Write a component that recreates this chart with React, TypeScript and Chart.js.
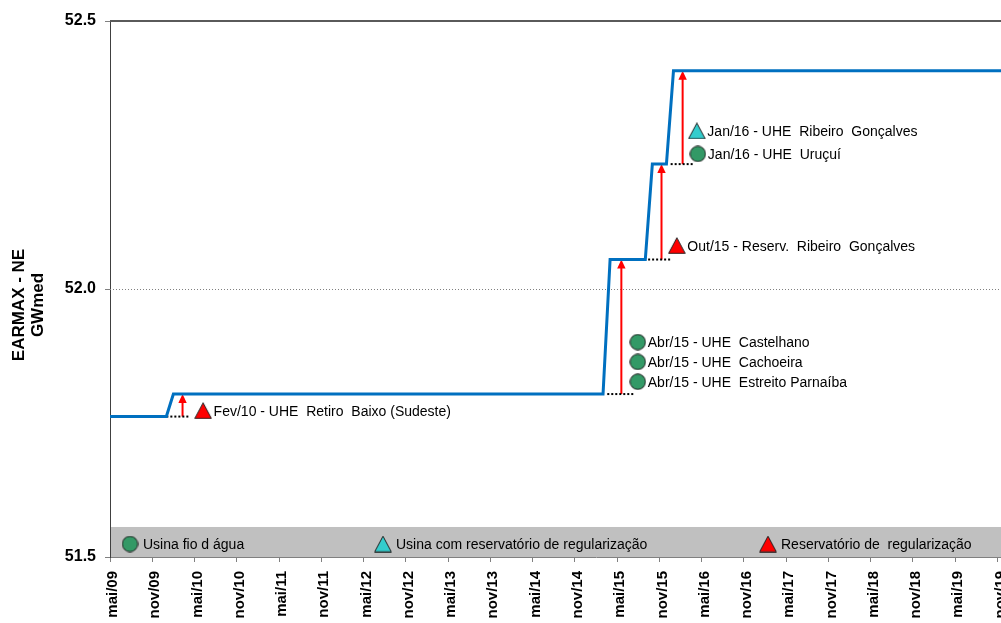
import React, { useEffect, useRef } from 'react';
import { Chart, registerables } from 'chart.js';

Chart.register(...registerables);

// ---- data ----
const MONTHS = ['jan', 'fev', 'mar', 'abr', 'mai', 'jun', 'jul', 'ago', 'set', 'out', 'nov', 'dez'];
function monthIndex(label: string): number {
  const [m, yy] = label.split('/');
  return (Number(yy) - 9) * 12 + MONTHS.indexOf(m) - 4; // months since mai/09
}

const xTickLabels = [
  'mai/09', 'nov/09', 'mai/10', 'nov/10', 'mai/11', 'nov/11', 'mai/12', 'nov/12',
  'mai/13', 'nov/13', 'mai/14', 'nov/14', 'mai/15', 'nov/15', 'mai/16', 'nov/16',
  'mai/17', 'nov/17', 'mai/18', 'nov/18', 'mai/19', 'nov/19', 'mai/20', 'nov/20',
];
const yMin = 51.5;
const yMax = 52.5;
const yStep = 0.5;
const yGridDotted = 52.0;
const legendBandTop = 51.556;

const earmaxDates = ['mai/09', 'jan/10', 'fev/10', 'mar/15', 'abr/15', 'set/15', 'out/15', 'dez/15', 'jan/16', 'nov/20'];
const earmaxValues = [51.762, 51.762, 51.804, 51.804, 52.055, 52.055, 52.233, 52.233, 52.407, 52.407];

// dotted guides under each step and red arrows (month index, GWmed)
const guideStart = [8.0, 70.6, 76.4, 79.6];
const guideEnd = [11.4, 74.4, 79.6, 82.9];
const guideLevel = [51.762, 51.804, 52.055, 52.233];
const arrowMonth = [10.3, 72.6, 78.3, 81.3];
const arrowFrom = [51.762, 51.804, 52.055, 52.233];
const arrowTo = [51.804, 52.055, 52.233, 52.407];

// annotated plants
const runOfRiverLabels = ['Jan/16 - UHE  Uruçuí', 'Abr/15 - UHE  Castelhano', 'Abr/15 - UHE  Cachoeira', 'Abr/15 - UHE  Estreito Parnaíba'];
const runOfRiverX = [83.46, 74.93, 74.93, 74.93];
const runOfRiverY = [52.252, 51.901, 51.864, 51.827];

const regulatedLabels = ['Jan/16 - UHE  Ribeiro  Gonçalves'];
const regulatedX = [83.32];
const regulatedY = [52.295];

const reservoirLabels = ['Fev/10 - UHE  Retiro  Baixo (Sudeste)', 'Out/15 - Reserv.  Ribeiro  Gonçalves'];
const reservoirX = [13.22, 80.48];
const reservoirY = [51.773, 52.081];

const legendTexts = ['Usina fio d água', 'Usina com reservatório de regularização', 'Reservatório de  regularização'];
const yTitleLines = ['EARMAX - NE', 'GWmed'];

const FONT = '"Liberation Sans", Arial, sans-serif';
const GREEN = '#339966';
const CYAN = '#33CCCC';
const RED = '#FF0000';

function makeTriangle(fill: string): HTMLCanvasElement {
  const c = document.createElement('canvas');
  c.width = 18;
  c.height = 17;
  const g = c.getContext('2d')!;
  g.beginPath();
  g.moveTo(9, 0.7);
  g.lineTo(17.3, 16.3);
  g.lineTo(0.7, 16.3);
  g.closePath();
  g.fillStyle = fill;
  g.fill();
  g.lineWidth = 1;
  g.strokeStyle = '#222';
  g.stroke();
  return c;
}
function makeCircle(fill: string): HTMLCanvasElement {
  const c = document.createElement('canvas');
  c.width = 17;
  c.height = 17;
  const g = c.getContext('2d')!;
  g.beginPath();
  g.arc(8.5, 8.5, 7.7, 0, Math.PI * 2);
  g.fillStyle = fill;
  g.fill();
  g.lineWidth = 1;
  g.strokeStyle = '#1a1a1a';
  g.stroke();
  return c;
}

export default function App() {
  const ref = useRef<HTMLCanvasElement | null>(null);

  useEffect(() => {
    if (!ref.current) return;
    const circleImg = makeCircle(GREEN);
    const cyanImg = makeTriangle(CYAN);
    const redImg = makeTriangle(RED);

    const markerSets = [
      { labels: runOfRiverLabels, xs: runOfRiverX, ys: runOfRiverY, img: circleImg },
      { labels: regulatedLabels, xs: regulatedX, ys: regulatedY, img: cyanImg },
      { labels: reservoirLabels, xs: reservoirX, ys: reservoirY, img: redImg },
    ];

    const datasets: any[] = [];
    datasets.push({
      label: 'EARMAX',
      data: earmaxDates.map((d, i) => ({ x: monthIndex(d), y: earmaxValues[i] })),
      showLine: true,
      borderColor: '#0070C0',
      borderWidth: 3,
      pointRadius: 0,
      order: 2,
    });
    guideStart.forEach((s, i) => {
      datasets.push({
        label: 'guide' + i,
        data: [{ x: s, y: guideLevel[i] }, { x: guideEnd[i], y: guideLevel[i] }],
        showLine: true,
        borderColor: '#000',
        borderWidth: 2,
        borderDash: [2, 2],
        pointRadius: 0,
        order: 3,
      });
    });
    markerSets.forEach((m, i) => {
      datasets.push({
        label: 'markers' + i,
        data: m.xs.map((x, j) => ({ x, y: m.ys[j] })),
        pointStyle: m.img,
        pointRadius: 9,
        showLine: false,
        order: 1,
        annotationLabels: m.labels,
      });
    });

    const decor = {
      id: 'decor',
      beforeDatasetsDraw(chart: any) {
        const { ctx, chartArea: a, scales } = chart;
        const x = scales.x;
        const y = scales.y;
        ctx.save();
        // legend band
        const b0 = y.getPixelForValue(legendBandTop);
        const b1 = y.getPixelForValue(yMin);
        ctx.fillStyle = '#C0C0C0';
        ctx.fillRect(a.left + 1, b0, a.right - a.left, b1 - b0);
        // dotted gridline
        const gy = Math.round(y.getPixelForValue(yGridDotted)) + 0.5;
        ctx.strokeStyle = '#808080';
        ctx.lineWidth = 1;
        ctx.setLineDash([1, 2]);
        ctx.beginPath();
        ctx.moveTo(a.left, gy);
        ctx.lineTo(a.right, gy);
        ctx.stroke();
        // top border
        ctx.setLineDash([]);
        ctx.strokeStyle = '#5a5a5a';
        ctx.lineWidth = 2;
        const ty = y.getPixelForValue(yMax);
        ctx.beginPath();
        ctx.moveTo(a.left, ty);
        ctx.lineTo(a.right, ty);
        ctx.stroke();
        // arrows
        arrowMonth.forEach((m, i) => {
          const ax = x.getPixelForValue(m);
          const y0 = y.getPixelForValue(arrowFrom[i]);
          const y1 = y.getPixelForValue(arrowTo[i]);
          ctx.strokeStyle = RED;
          ctx.lineWidth = 2;
          ctx.beginPath();
          ctx.moveTo(ax, y0);
          ctx.lineTo(ax, y1 + 7);
          ctx.stroke();
          ctx.fillStyle = RED;
          ctx.beginPath();
          ctx.moveTo(ax, y1);
          ctx.lineTo(ax + 4.2, y1 + 9);
          ctx.lineTo(ax - 4.2, y1 + 9);
          ctx.closePath();
          ctx.fill();
        });
        ctx.restore();
      },
      afterDatasetsDraw(chart: any) {
        const { ctx, chartArea: a } = chart;
        ctx.save();
        ctx.fillStyle = '#000';
        ctx.font = `14px ${FONT}`;
        ctx.textBaseline = 'middle';
        ctx.textAlign = 'left';
        chart.data.datasets.forEach((ds: any, di: number) => {
          if (!ds.annotationLabels) return;
          const meta = chart.getDatasetMeta(di);
          meta.data.forEach((pt: any, j: number) => {
            const w = ds.pointStyle.width;
            ctx.fillText(ds.annotationLabels[j], pt.x + w / 2 + 1.5, pt.y + 1.5);
          });
        });
        // legend inside band
        const ly = a.bottom - 13;
        const items = [
          { img: circleImg, dx: 20 },
          { img: cyanImg, dx: 273 },
          { img: redImg, dx: 658 },
        ];
        items.forEach((it, i) => {
          const cx = a.left + it.dx;
          ctx.drawImage(it.img, cx - it.img.width / 2, ly - it.img.height / 2);
          ctx.fillText(legendTexts[i], cx + 13, ly + 1);
        });
        ctx.restore();
      },
      afterDraw(chart: any) {
        const { ctx } = chart;
        ctx.save();
        ctx.fillStyle = '#000';
        ctx.font = `bold 17px ${FONT}`;
        ctx.textAlign = 'center';
        ctx.textBaseline = 'middle';
        const cols = [19.5, 38.5];
        yTitleLines.forEach((t, i) => {
          ctx.save();
          ctx.translate(cols[i], 305);
          ctx.rotate(-Math.PI / 2);
          ctx.fillText(t, 0, 0);
          ctx.restore();
        });
        ctx.restore();
      },
    };

    const chart = new Chart(ref.current, {
      type: 'scatter',
      data: { datasets },
      plugins: [decor],
      options: {
        animation: false,
        responsive: false,
        events: [],
        layout: { padding: { top: 21, right: 19, bottom: 0, left: 0 } },
        plugins: { legend: { display: false }, tooltip: { enabled: false } },
        scales: {
          x: {
            type: 'linear',
            position: 'bottom',
            min: 0,
            max: (xTickLabels.length - 1) * 6,
            afterFit: (s: any) => { s.height = 66; },
            grid: { drawOnChartArea: false, drawTicks: true, tickLength: 5, tickColor: '#808080' },
            border: { color: '#808080', width: 1 },
            ticks: {
              stepSize: 6,
              maxTicksLimit: 100,
              includeBounds: false,
              autoSkip: false,
              minRotation: 90,
              maxRotation: 90,
              padding: 9,
              labelOffset: 3,
              color: '#000',
              font: { family: FONT, size: 15, weight: 'bold' },
              callback: (v: any) => xTickLabels[Math.round(Number(v) / 6)] ?? '',
            },
          },
          y: {
            type: 'linear',
            min: yMin,
            max: yMax,
            afterFit: (s: any) => { s.width = 110; },
            grid: { drawOnChartArea: false, drawTicks: true, tickLength: 5, tickColor: '#808080' },
            border: { color: '#404040', width: 1 },
            ticks: {
              stepSize: yStep,
              padding: 9,
              color: '#000',
              font: { family: FONT, size: 16, weight: 'bold' },
              callback: (v: any) => Number(v).toFixed(1),
            },
          },
        },
      } as any,
    });
    return () => chart.destroy();
  }, []);

  return (
    <div style={{ position: 'absolute', left: 0, top: 0, width: 1001, height: 623, overflow: 'hidden', background: '#fff' }}>
      <canvas ref={ref} width={1109} height={623} style={{ display: 'block' }} />
    </div>
  );
}
